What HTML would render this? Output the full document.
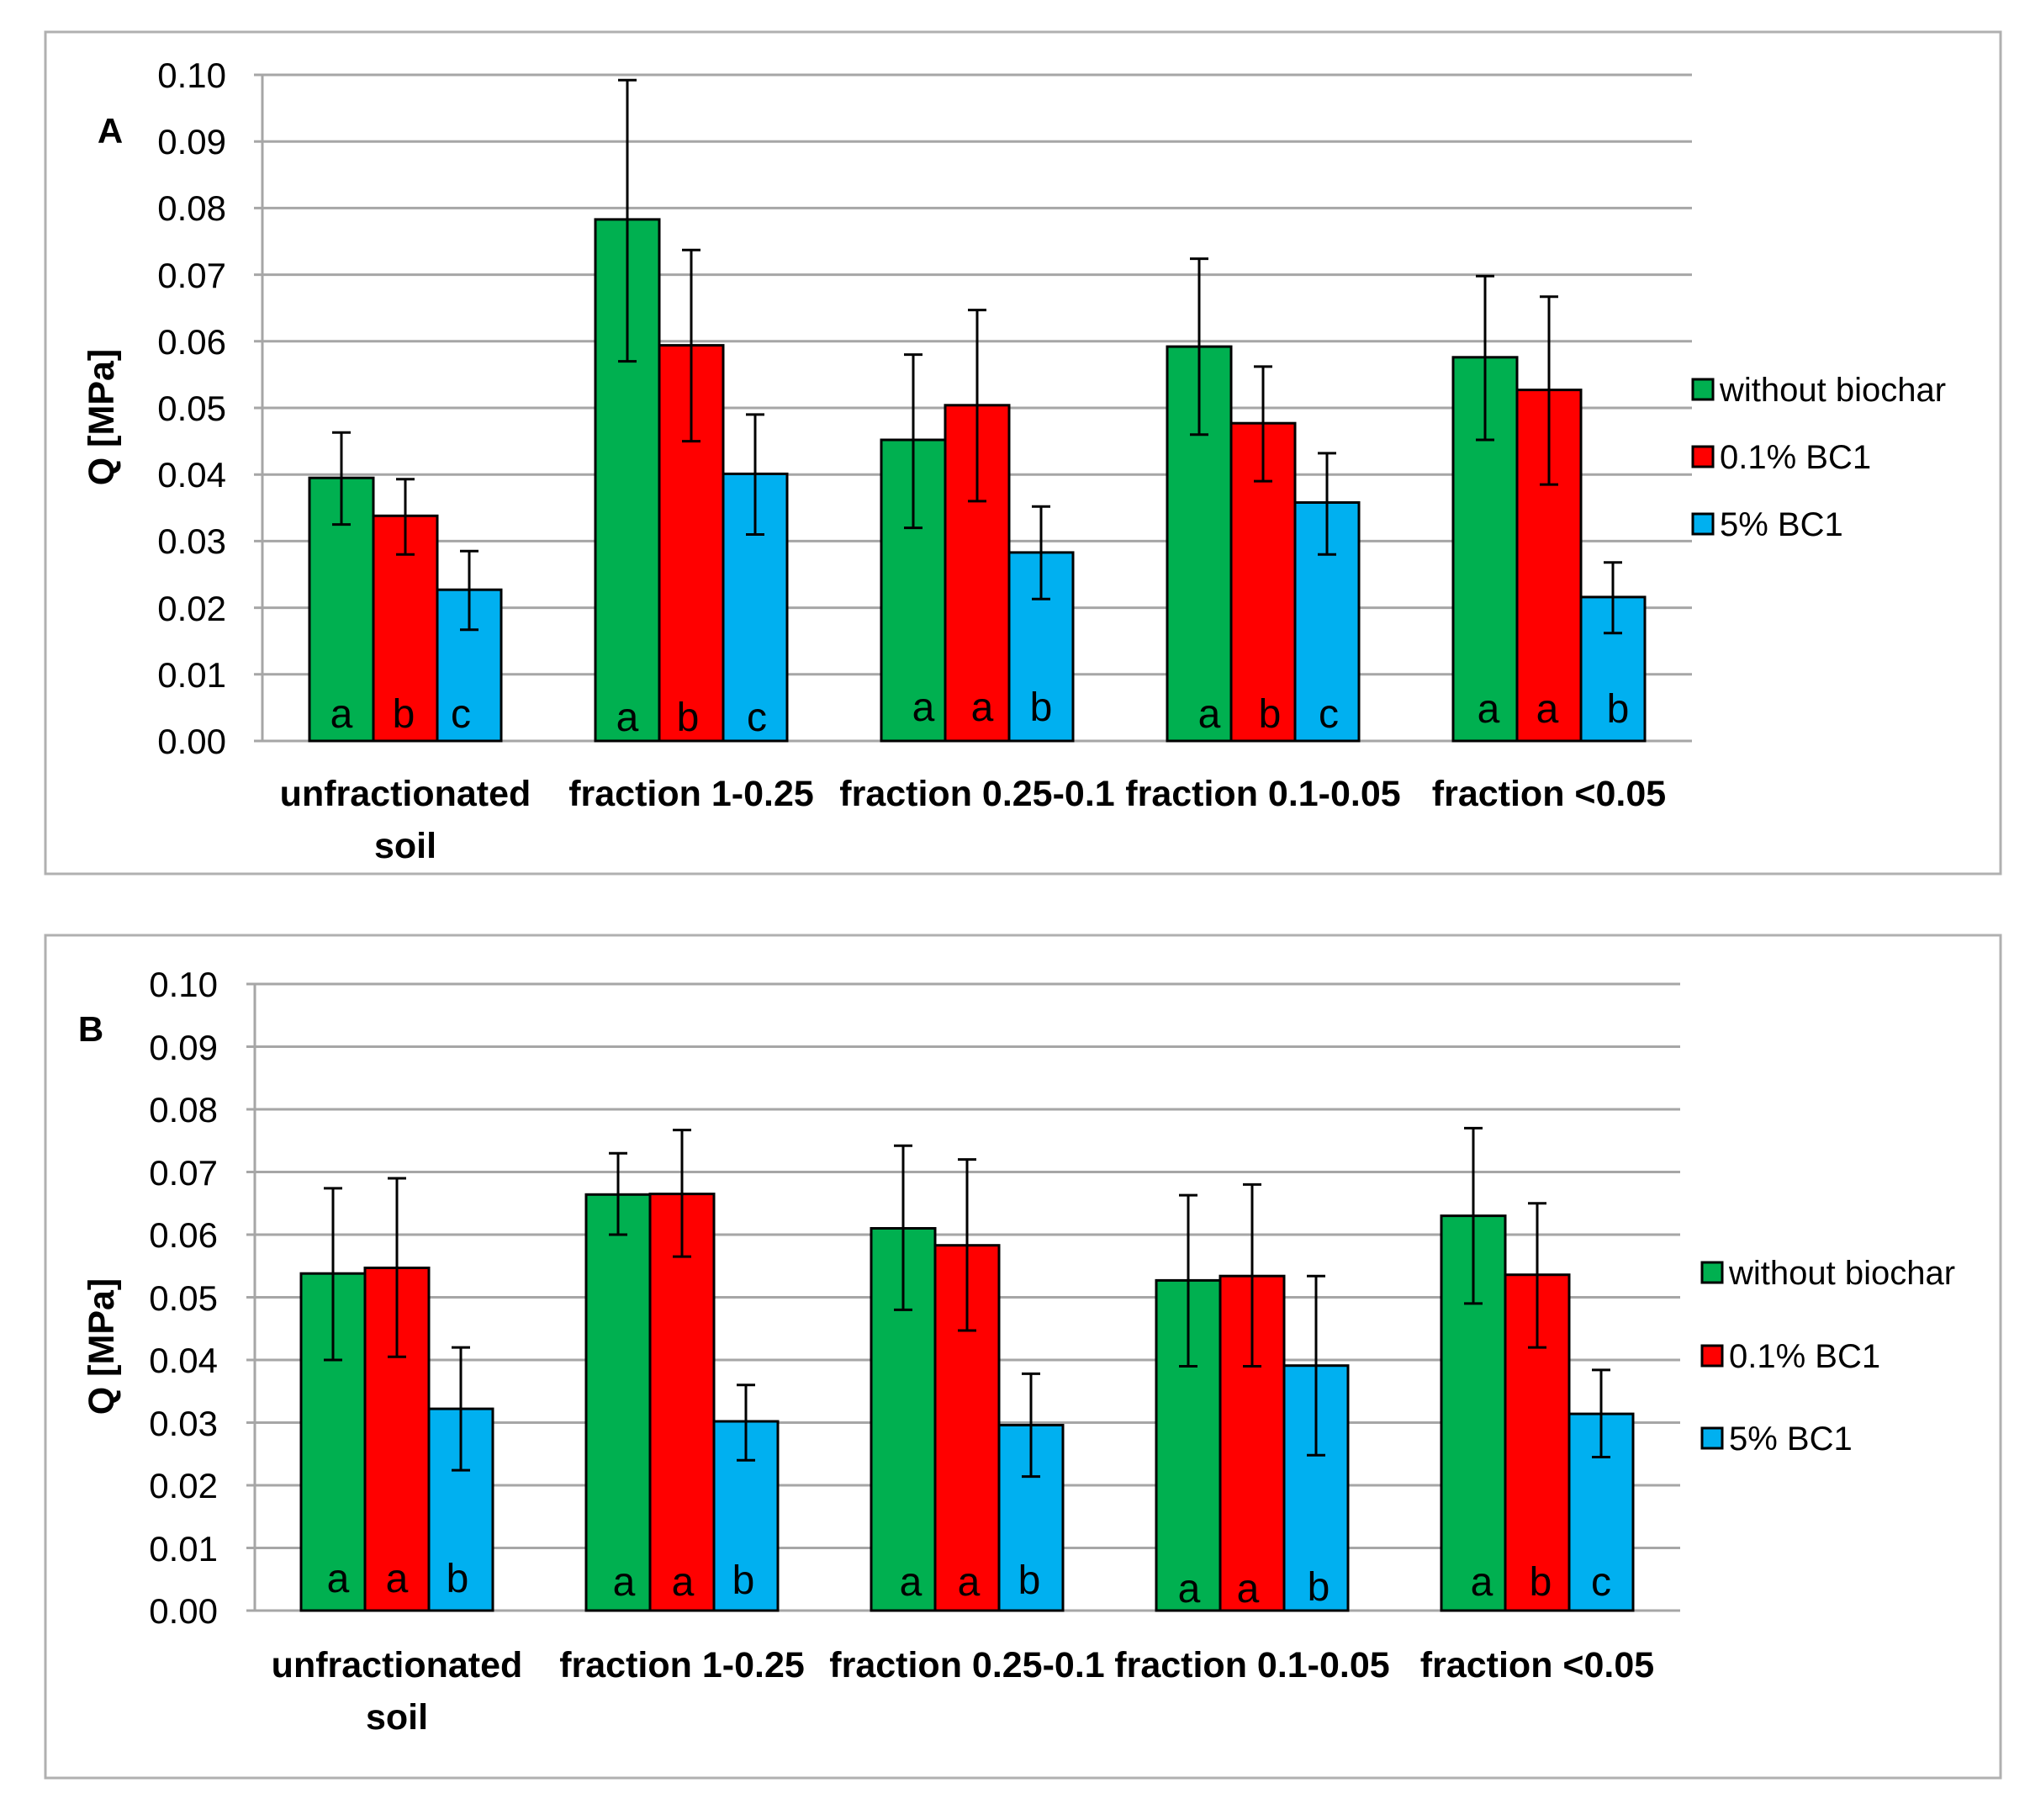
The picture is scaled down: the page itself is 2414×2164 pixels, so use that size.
<!DOCTYPE html>
<html><head><meta charset="utf-8"><style>
html,body{margin:0;padding:0;background:#fff;}
svg{display:block;font-family:"Liberation Sans",sans-serif;}
.t{font-size:42px;fill:#000;text-anchor:end;}
.c{font-size:43px;font-weight:bold;text-anchor:middle;}
.l{font-size:48px;text-anchor:middle;}
.g{stroke:#a6a6a6;stroke-width:3;}
.bar{stroke:#000;stroke-width:3;}
.e{stroke:#000;stroke-width:3;fill:none;}
.lg{font-size:40px;}
</style></head><body>
<svg width="2414" height="2164" viewBox="0 0 2414 2164">
<rect x="0" y="0" width="2414" height="2164" fill="#fff"/>
<!-- Chart A -->
<rect x="54" y="38" width="2325" height="1001" fill="none" stroke="#b0b0b0" stroke-width="3"/>
<g class="g">
<line x1="302" y1="881" x2="2012" y2="881"/><line x1="302" y1="801.8" x2="2012" y2="801.8"/>
<line x1="302" y1="722.6" x2="2012" y2="722.6"/><line x1="302" y1="643.4" x2="2012" y2="643.4"/>
<line x1="302" y1="564.2" x2="2012" y2="564.2"/><line x1="302" y1="485" x2="2012" y2="485"/>
<line x1="302" y1="405.8" x2="2012" y2="405.8"/><line x1="302" y1="326.6" x2="2012" y2="326.6"/>
<line x1="302" y1="247.4" x2="2012" y2="247.4"/><line x1="302" y1="168.2" x2="2012" y2="168.2"/>
<line x1="302" y1="89" x2="2012" y2="89"/><line x1="312" y1="89" x2="312" y2="881"/>
</g>
<g class="t">
<text x="269" y="896">0.00</text><text x="269" y="817">0.01</text><text x="269" y="738">0.02</text>
<text x="269" y="658">0.03</text><text x="269" y="579">0.04</text><text x="269" y="500">0.05</text>
<text x="269" y="421">0.06</text><text x="269" y="342">0.07</text><text x="269" y="262">0.08</text>
<text x="269" y="183">0.09</text><text x="269" y="104">0.10</text>
</g>
<text x="131" y="170" style="font-size:42px;font-weight:bold" text-anchor="middle">A</text>
<text transform="translate(135,496) rotate(-90)" style="font-size:43px;font-weight:bold" text-anchor="middle">Q [MPa]</text>
<g class="bar">
<rect x="368" y="568.2" width="76" height="312.8" fill="#00b050"/><rect x="444" y="613.3" width="76" height="267.7" fill="#ff0000"/><rect x="520" y="701.2" width="76" height="179.8" fill="#00b0f0"/>
<rect x="708" y="260.9" width="76" height="620.1" fill="#00b050"/><rect x="784" y="410.6" width="76" height="470.4" fill="#ff0000"/><rect x="860" y="563.4" width="76" height="317.6" fill="#00b0f0"/>
<rect x="1048" y="523" width="76" height="358" fill="#00b050"/><rect x="1124" y="481.8" width="76" height="399.2" fill="#ff0000"/><rect x="1200" y="656.9" width="76" height="224.1" fill="#00b0f0"/>
<rect x="1388" y="412.1" width="76" height="468.9" fill="#00b050"/><rect x="1464" y="503.2" width="76" height="377.8" fill="#ff0000"/><rect x="1540" y="597.5" width="76" height="283.5" fill="#00b0f0"/>
<rect x="1728" y="424.8" width="76" height="456.2" fill="#00b050"/><rect x="1804" y="463.6" width="76" height="417.4" fill="#ff0000"/><rect x="1880" y="709.9" width="76" height="171.1" fill="#00b0f0"/>
</g>
<path class="e" d="M406 623.6V514.3M395 623.6H417M395 514.3H417
M482 659.2V569.7M471 659.2H493M471 569.7H493
M558 748.7V655.3M547 748.7H569M547 655.3H569
M746 429.6V95.3M735 429.6H757M735 95.3H757
M822 524.6V297.3M811 524.6H833M811 297.3H833
M898 635.5V492.9M887 635.5H909M887 492.9H909
M1086 627.6V421.6M1075 627.6H1097M1075 421.6H1097
M1162 595.9V368.6M1151 595.9H1173M1151 368.6H1173
M1238 712.3V602.2M1227 712.3H1249M1227 602.2H1249
M1426 516.7V307.6M1415 516.7H1437M1415 307.6H1437
M1502 572.1V435.9M1491 572.1H1513M1491 435.9H1513
M1578 659.2V538.9M1567 659.2H1589M1567 538.9H1589
M1766 523V328.2M1755 523H1777M1755 328.2H1777
M1842 576.1V352.7M1831 576.1H1853M1831 352.7H1853
M1918 752.7V668.7M1907 752.7H1929M1907 668.7H1929"/>
<g class="l">
<text x="406" y="865">a</text><text x="480" y="865">b</text><text x="548" y="865">c</text>
<text x="746" y="869">a</text><text x="818" y="869">b</text><text x="900" y="869">c</text>
<text x="1098" y="857">a</text><text x="1168" y="857">a</text><text x="1238" y="857">b</text>
<text x="1438" y="865">a</text><text x="1510" y="865">b</text><text x="1580" y="865">c</text>
<text x="1770" y="859">a</text><text x="1840" y="859">a</text><text x="1924" y="859">b</text>
</g>
<g class="c">
<text x="482" y="958">unfractionated</text><text x="482" y="1020">soil</text>
<text x="822" y="958">fraction 1-0.25</text>
<text x="1162" y="958">fraction 0.25-0.1</text>
<text x="1502" y="958">fraction 0.1-0.05</text>
<text x="1842" y="958">fraction &lt;0.05</text>
</g>
<rect x="2013" y="451" width="24" height="24" fill="#00b050" stroke="#000" stroke-width="3"/>
<rect x="2013" y="531" width="24" height="24" fill="#ff0000" stroke="#000" stroke-width="3"/>
<rect x="2013" y="611" width="24" height="24" fill="#00b0f0" stroke="#000" stroke-width="3"/>
<text class="lg" x="2045" y="477">without biochar</text>
<text class="lg" x="2045" y="557">0.1% BC1</text>
<text class="lg" x="2045" y="637">5% BC1</text>

<!-- Chart B -->
<rect x="54" y="1112" width="2325" height="1002" fill="none" stroke="#b0b0b0" stroke-width="3"/>
<g class="g">
<line x1="293" y1="1915" x2="1998" y2="1915"/><line x1="293" y1="1840.5" x2="1998" y2="1840.5"/>
<line x1="293" y1="1766" x2="1998" y2="1766"/><line x1="293" y1="1691.5" x2="1998" y2="1691.5"/>
<line x1="293" y1="1617" x2="1998" y2="1617"/><line x1="293" y1="1542.5" x2="1998" y2="1542.5"/>
<line x1="293" y1="1468" x2="1998" y2="1468"/><line x1="293" y1="1393.5" x2="1998" y2="1393.5"/>
<line x1="293" y1="1319" x2="1998" y2="1319"/><line x1="293" y1="1244.5" x2="1998" y2="1244.5"/>
<line x1="293" y1="1170" x2="1998" y2="1170"/><line x1="303" y1="1170" x2="303" y2="1915"/>
</g>
<g class="t">
<text x="259" y="1930">0.00</text><text x="259" y="1856">0.01</text><text x="259" y="1781">0.02</text>
<text x="259" y="1707">0.03</text><text x="259" y="1632">0.04</text><text x="259" y="1558">0.05</text>
<text x="259" y="1483">0.06</text><text x="259" y="1409">0.07</text><text x="259" y="1334">0.08</text>
<text x="259" y="1260">0.09</text><text x="259" y="1185">0.10</text>
</g>
<text x="108" y="1238" style="font-size:42px;font-weight:bold" text-anchor="middle">B</text>
<text transform="translate(135,1601) rotate(-90)" style="font-size:43px;font-weight:bold" text-anchor="middle">Q [MPa]</text>
<g class="bar">
<rect x="358" y="1514.2" width="76" height="400.8" fill="#00b050"/><rect x="434" y="1507.5" width="76" height="407.5" fill="#ff0000"/><rect x="510" y="1675.1" width="76" height="239.9" fill="#00b0f0"/>
<rect x="697" y="1420.3" width="76" height="494.7" fill="#00b050"/><rect x="773" y="1419.6" width="76" height="495.4" fill="#ff0000"/><rect x="849" y="1690" width="76" height="225" fill="#00b0f0"/>
<rect x="1036" y="1460.5" width="76" height="454.5" fill="#00b050"/><rect x="1112" y="1480.7" width="76" height="434.3" fill="#ff0000"/><rect x="1188" y="1694.5" width="76" height="220.5" fill="#00b0f0"/>
<rect x="1375" y="1522.4" width="76" height="392.6" fill="#00b050"/><rect x="1451" y="1517.2" width="76" height="397.8" fill="#ff0000"/><rect x="1527" y="1623.7" width="76" height="291.3" fill="#00b0f0"/>
<rect x="1714" y="1445.6" width="76" height="469.4" fill="#00b050"/><rect x="1790" y="1515.7" width="76" height="399.3" fill="#ff0000"/><rect x="1866" y="1681.1" width="76" height="233.9" fill="#00b0f0"/>
</g>
<path class="e" d="M396 1617V1412.9M385 1617H407M385 1412.9H407
M472 1613.3V1401M461 1613.3H483M461 1401H483
M548 1748.1V1602.1M537 1748.1H559M537 1602.1H559
M735 1468V1371.2M724 1468H746M724 1371.2H746
M811 1494.1V1343.6M800 1494.1H822M800 1343.6H822
M887 1736.2V1646.8M876 1736.2H898M876 1646.8H898
M1074 1557.4V1362.2M1063 1557.4H1085M1063 1362.2H1085
M1150 1582V1378.6M1139 1582H1161M1139 1378.6H1161
M1226 1755.6V1633.4M1215 1755.6H1237M1215 1633.4H1237
M1413 1624.5V1421.1M1402 1624.5H1424M1402 1421.1H1424
M1489 1624.5V1408.4M1478 1624.5H1500M1478 1408.4H1500
M1565 1730.2V1517.2M1554 1730.2H1576M1554 1517.2H1576
M1752 1549.9V1341.4M1741 1549.9H1763M1741 1341.4H1763
M1828 1602.1V1430.8M1817 1602.1H1839M1817 1430.8H1839
M1904 1732.5V1628.9M1893 1732.5H1915M1893 1628.9H1915"/>
<g class="l">
<text x="402" y="1893">a</text><text x="472" y="1893">a</text><text x="544" y="1893">b</text>
<text x="742" y="1897">a</text><text x="812" y="1897">a</text><text x="884" y="1895">b</text>
<text x="1083" y="1897">a</text><text x="1152" y="1897">a</text><text x="1224" y="1895">b</text>
<text x="1414" y="1905">a</text><text x="1484" y="1905">a</text><text x="1568" y="1903">b</text>
<text x="1762" y="1897">a</text><text x="1832" y="1897">b</text><text x="1904" y="1897">c</text>
</g>
<g class="c">
<text x="472" y="1994">unfractionated</text><text x="472" y="2056">soil</text>
<text x="811" y="1994">fraction 1-0.25</text>
<text x="1150" y="1994">fraction 0.25-0.1</text>
<text x="1489" y="1994">fraction 0.1-0.05</text>
<text x="1828" y="1994">fraction &lt;0.05</text>
</g>
<rect x="2024" y="1501" width="24" height="24" fill="#00b050" stroke="#000" stroke-width="3"/>
<rect x="2024" y="1600" width="24" height="24" fill="#ff0000" stroke="#000" stroke-width="3"/>
<rect x="2024" y="1698" width="24" height="24" fill="#00b0f0" stroke="#000" stroke-width="3"/>
<text class="lg" x="2056" y="1527">without biochar</text>
<text class="lg" x="2056" y="1626">0.1% BC1</text>
<text class="lg" x="2056" y="1724">5% BC1</text>
</svg>
</body></html>
